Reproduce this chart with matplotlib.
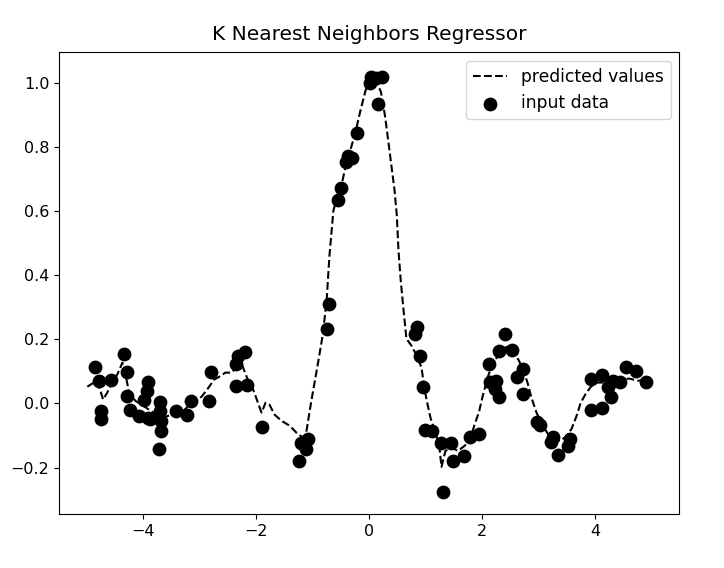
import numpy as np
import matplotlib
matplotlib.use("Agg")
import matplotlib.pyplot as plt

plt.rcParams.update({
    "font.size": 12,
    "axes.titlesize": 14.5,
    "legend.fontsize": 12.3,
    "xtick.labelsize": 11.5,
    "ytick.labelsize": 11.5,
})

# input data
x_in = [-4.85, -4.77, -4.56, -4.74, -4.74, -4.33, -4.27, -4.27, -4.22, -4.06,
        -3.90, -3.93, -3.98, -3.88, -3.91, -3.70, -3.70, -3.67, -3.67, -3.72,
        -3.41, -3.21, -3.14, -2.80, -2.83, -2.32, -2.20, -2.35, -2.35, -2.16,
        -1.89, -1.08, -1.20, -1.11, -1.24, -0.74, -0.70, -0.55, -0.49, -0.40,
        -0.37, -0.31, -0.22, 0.01, 0.04, 0.12, 0.22, 0.16, 0.84, 0.81,
        0.90, 0.95, 0.98, 1.12, 1.28, 1.44, 1.48, 1.67, 1.31, 1.78,
        1.95, 2.12, 2.40, 2.30, 2.53, 2.13, 2.25, 2.22, 2.30, 2.72,
        2.62, 2.72, 2.96, 3.02, 3.25, 3.22, 3.34, 3.55, 3.52, 3.92,
        3.92, 4.11, 4.11, 4.28, 4.31, 4.43, 4.22, 4.55, 4.71, 4.90]
y_in = [0.113, 0.070, 0.074, -0.025, -0.050, 0.153, 0.097, 0.022, -0.021, -0.038,
        0.068, 0.040, 0.010, -0.048, -0.044, 0.003, -0.025, -0.054, -0.085, -0.143,
        -0.023, -0.036, 0.008, 0.097, 0.008, 0.149, 0.159, 0.123, 0.055, 0.058,
        -0.073, -0.111, -0.125, -0.143, -0.179, 0.232, 0.311, 0.633, 0.673, 0.753,
        0.771, 0.764, 0.844, 0.998, 1.019, 1.015, 1.019, 0.934, 0.237, 0.217,
        0.149, 0.052, -0.083, -0.085, -0.125, -0.122, -0.179, -0.163, -0.275, -0.104,
        -0.095, 0.123, 0.217, 0.163, 0.166, 0.066, 0.071, 0.045, 0.019, 0.107,
        0.081, 0.030, -0.059, -0.068, -0.104, -0.120, -0.160, -0.111, -0.132, 0.076,
        -0.020, 0.090, -0.013, 0.019, 0.071, 0.066, 0.050, 0.115, 0.102, 0.066]

# predicted values
x_pred = [-4.98, -4.89, -4.80, -4.75, -4.70, -4.63, -4.53, -4.45, -4.36, -4.29,
          -4.24, -4.13, -4.02, -3.91, -3.81, -3.70, -3.60, -3.49, -3.38, -3.28,
          -3.17, -3.06, -2.96, -2.85, -2.74, -2.65, -2.54, -2.43, -2.33, -2.24,
          -2.15, -2.08, -1.99, -1.90, -1.83, -1.76, -1.67, -1.55, -1.40, -1.28,
          -1.19, -1.12, -1.02, -0.91, -0.82, -0.75, -0.70, -0.63, -0.55, -0.48,
          -0.41, -0.33, -0.24, -0.15, -0.06, 0.03, 0.12, 0.21, 0.28, 0.36,
          0.45, 0.49, 0.52, 0.56, 0.61, 0.66, 0.75, 0.86, 0.93, 0.97,
          1.02, 1.09, 1.18, 1.25, 1.28, 1.35, 1.46, 1.57, 1.67, 1.78,
          1.87, 1.94, 2.01, 2.10, 2.19, 2.27, 2.36, 2.45, 2.54, 2.65,
          2.73, 2.80, 2.87, 2.96, 3.05, 3.16, 3.26, 3.37, 3.48, 3.58,
          3.67, 3.74, 3.83, 3.92, 4.03, 4.13, 4.25, 4.36, 4.47, 4.61,
          4.75, 4.89, 4.96]
y_pred = [0.052, 0.062, 0.068, 0.040, 0.012, 0.033, 0.068, 0.090, 0.127, 0.077,
          0.033, 0.008, -0.004, -0.017, -0.029, -0.035, -0.042, -0.035, -0.029, -0.023,
          -0.004, 0.008, 0.021, 0.046, 0.074, 0.083, 0.096, 0.096, 0.115, 0.118,
          0.077, 0.058, 0.015, -0.029, 0.002, -0.004, -0.035, -0.054, -0.070, -0.092,
          -0.104, -0.101, 0.008, 0.118, 0.212, 0.321, 0.461, 0.602, 0.649, 0.686,
          0.743, 0.790, 0.846, 0.915, 0.977, 1.015, 1.008, 0.971, 0.899, 0.790,
          0.665, 0.587, 0.477, 0.383, 0.290, 0.202, 0.180, 0.143, 0.109, 0.055,
          0.008, -0.048, -0.092, -0.148, -0.198, -0.148, -0.138, -0.148, -0.135, -0.117,
          -0.063, -0.029, 0.024, 0.083, 0.127, 0.146, 0.171, 0.177, 0.165, 0.133,
          0.102, 0.065, 0.018, -0.029, -0.063, -0.095, -0.110, -0.117, -0.104, -0.079,
          -0.038, 0.002, 0.030, 0.052, 0.065, 0.065, 0.058, 0.065, 0.077, 0.077,
          0.071, 0.071, 0.068]

fig, ax = plt.subplots(figsize=(7.24, 5.68), dpi=100)
fig.subplots_adjust(left=0.0815, right=0.938, top=0.908, bottom=0.095)

ax.plot(x_pred, y_pred, "k--", lw=1.5, label="predicted values")
ax.scatter(x_in, y_in, s=80, c="k", label="input data")

ax.set_xlim(-5.48, 5.48)
ax.set_ylim(-0.345, 1.095)
ax.set_xticks([-4, -2, 0, 2, 4])
ax.set_yticks(np.arange(-0.2, 1.01, 0.2))
ax.set_title("K Nearest Neighbors Regressor", pad=9)
ax.legend(loc="upper right")

plt.savefig("out.png", dpi=100)
plt.close()
